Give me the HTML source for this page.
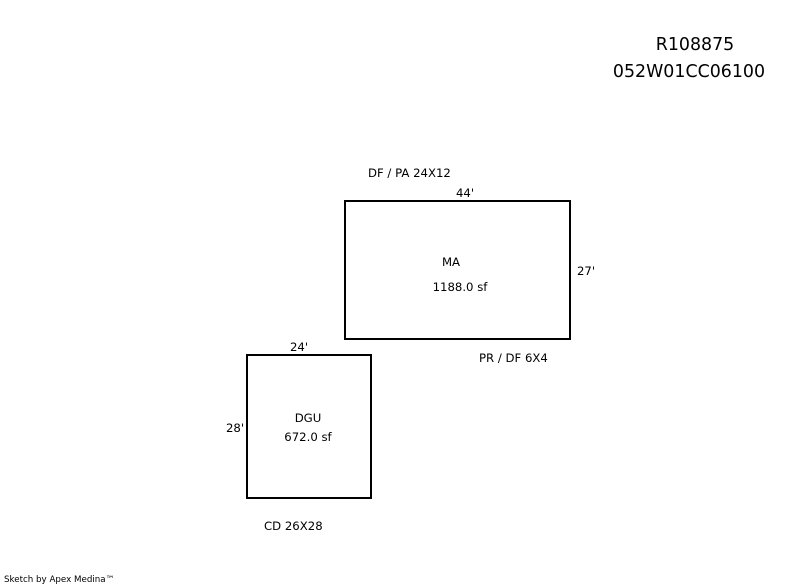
<!DOCTYPE html>
<html><head><style>
html,body{margin:0;padding:0;background:#fff;}
svg{display:block;}
text{font-family:"DejaVu Sans","Liberation Sans",sans-serif;fill:#000;}
</style></head><body>
<svg width="800" height="587" viewBox="0 0 800 587" xmlns="http://www.w3.org/2000/svg">
<rect x="345" y="201" width="225" height="138" fill="none" stroke="#000" stroke-width="2"/>
<rect x="247" y="355" width="124" height="143" fill="none" stroke="#000" stroke-width="2"/>
<text x="695" y="50" font-size="17.4" text-anchor="middle">R108875</text>
<text x="689" y="77" font-size="17.4" text-anchor="middle">052W01CC06100</text>
<g font-size="11.7">
<text x="368" y="177">DF / PA 24X12</text>
<text x="465" y="197" text-anchor="middle">44'</text>
<text x="577" y="275">27'</text>
<text x="451" y="266" text-anchor="middle">MA</text>
<text x="460" y="291" text-anchor="middle">1188.0 sf</text>
<text x="479" y="362">PR / DF 6X4</text>
<text x="299" y="351" text-anchor="middle">24'</text>
<text x="226" y="432">28'</text>
<text x="308" y="422" text-anchor="middle">DGU</text>
<text x="308" y="441" text-anchor="middle">672.0 sf</text>
<text x="264" y="530">CD 26X28</text>
</g>
<text x="4" y="582" font-size="8.7">Sketch by Apex Medina™</text>
</svg>
</body></html>
